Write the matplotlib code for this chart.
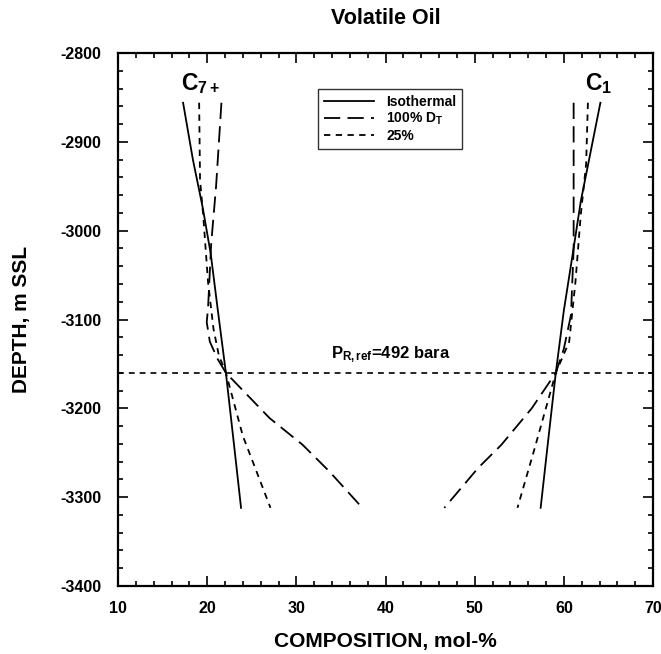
import matplotlib
matplotlib.use("Agg")
import matplotlib.pyplot as plt
from matplotlib.ticker import MultipleLocator

plt.rcParams['font.family'] = ['Liberation Sans', 'DejaVu Sans']
plt.rcParams['axes.unicode_minus'] = False
plt.rcParams['mathtext.fontset'] = 'custom'
plt.rcParams['mathtext.rm'] = 'Liberation Sans:bold'
plt.rcParams['mathtext.it'] = 'Liberation Sans:bold'
plt.rcParams['mathtext.bf'] = 'Liberation Sans:bold'

# ---- data ----
c7_iso_depth = [-2856, -2920, -2974, -3026, -3090, -3160, -3240, -3312]
c7_iso_x = [17.3, 18.4, 19.5, 20.4, 21.2, 22.1, 23.0, 23.8]

c7_dt_depth = [-2856, -2950, -3015, -3087, -3103, -3125, -3145, -3160, -3211, -3241, -3271, -3312]
c7_dt_x = [21.6, 21.0, 20.45, 20.1, 19.95, 20.3, 21.2, 22.1, 27.0, 30.7, 33.7, 37.4]

c7_25_depth = [-2856, -2943, -2982, -3058, -3110, -3140, -3160, -3231, -3312]
c7_25_x = [19.1, 19.2, 19.55, 20.1, 20.7, 21.3, 22.1, 24.0, 27.1]

c1_iso_depth = [-2856, -2967, -3026, -3090, -3160, -3240, -3312]
c1_iso_x = [64.1, 61.9, 61.0, 60.0, 59.1, 58.2, 57.4]

c1_dt_depth = [-2856, -3020, -3095, -3133, -3160, -3200, -3241, -3267, -3312]
c1_dt_x = [61.1, 61.1, 60.8, 60.0, 59.1, 56.4, 53.0, 50.4, 46.6]

c1_25_depth = [-2856, -2925, -2982, -3058, -3125, -3160, -3246, -3312]
c1_25_x = [62.7, 62.5, 61.9, 61.3, 60.6, 59.1, 56.7, 54.8]

ref_depth = -3160
ref_label = r'$\mathbf{P_{R,ref}}$=492 bara'
legend_labels = ['Isothermal', '100% D$_\\mathbf{T}$', '25%']

# ---- figure ----
fig = plt.figure(figsize=(6.61, 6.54), dpi=100)
ax = fig.add_axes([118/661, 1-586/654, (653-118)/661, (586-53)/654])

lw = 1.3
ls_iso = '-'
ls_dt = (0, (9, 4))
ls_25 = (0, (3.5, 3))

l1, = ax.plot(c7_iso_x, c7_iso_depth, color='black', lw=lw, ls=ls_iso)
l2, = ax.plot(c7_dt_x, c7_dt_depth, color='black', lw=lw, ls=ls_dt)
l3, = ax.plot(c7_25_x, c7_25_depth, color='black', lw=lw, ls=ls_25)
ax.plot(c1_iso_x, c1_iso_depth, color='black', lw=lw, ls=ls_iso)
ax.plot(c1_dt_x, c1_dt_depth, color='black', lw=lw, ls=ls_dt)
ax.plot(c1_25_x, c1_25_depth, color='black', lw=lw, ls=ls_25)

ax.axhline(ref_depth, color='black', lw=1.2, ls=(0, (3.5, 3)))
ax.text(40.6, ref_depth + 9, ref_label, ha='center', va='bottom',
        fontsize=12, fontweight='bold')

ax.text(19.3, -2820, r'$\mathbf{C_{7+}}$', ha='center', va='top', fontsize=16.5, fontweight='bold')
ax.text(63.9, -2820, r'$\mathbf{C_{1}}$', ha='center', va='top', fontsize=16.5, fontweight='bold')

ax.set_xlim(10, 70)
ax.set_ylim(-3400, -2800)
ax.xaxis.set_major_locator(MultipleLocator(10))
ax.xaxis.set_minor_locator(MultipleLocator(2))
ax.yaxis.set_major_locator(MultipleLocator(100))
ax.yaxis.set_minor_locator(MultipleLocator(20))
ax.tick_params(which='both', direction='in', top=True, right=True, width=1.2)
ax.tick_params(which='major', length=7, labelsize=11.5)
ax.tick_params(axis='y', which='major', pad=12)
ax.tick_params(axis='x', which='major', pad=11)
ax.tick_params(which='minor', length=3.5)
for lab in ax.get_xticklabels() + ax.get_yticklabels():
    lab.set_fontweight('bold')
for sp in ax.spines.values():
    sp.set_linewidth(1.6)

ax.set_xlabel('COMPOSITION, mol-%', fontsize=15, fontweight='bold', labelpad=11)
ax.set_ylabel('DEPTH, m SSL', fontsize=15, fontweight='bold', labelpad=21)
ax.set_title('Volatile Oil', fontsize=15.5, fontweight='bold', pad=21)

leg = ax.legend([l1, l2, l3], legend_labels, loc='upper left',
                bbox_to_anchor=((318-118)/535, (586-89)/533), borderaxespad=0,
                fontsize=10, frameon=True, fancybox=False, edgecolor='black',
                handlelength=3.6, handletextpad=0.9, borderpad=0.4, labelspacing=0.15)
leg.get_frame().set_linewidth(1.0)
for t in leg.get_texts():
    t.set_fontweight('bold')

fig.savefig('out.png', dpi=100)
